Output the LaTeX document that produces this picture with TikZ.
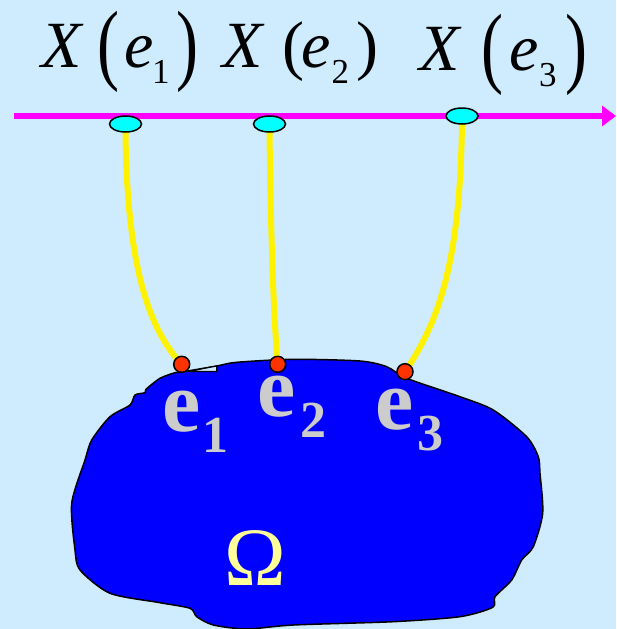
\documentclass[tikz,border=0pt]{standalone}
\usepackage{fontspec}
\setmainfont{Liberation Serif}
\usepackage{graphicx}
\usetikzlibrary{arrows.meta,shapes.geometric}
\definecolor{bgblue}{RGB}{207,236,255}
\definecolor{blobblue}{RGB}{0,0,255}
\definecolor{axmag}{RGB}{255,0,255}
\definecolor{ellcyan}{RGB}{0,255,255}
\definecolor{dotred}{RGB}{255,51,0}
\definecolor{egray}{RGB}{204,204,204}
\definecolor{omyellow}{RGB}{255,255,153}
\newcommand\BigP[1]{\raisebox{-6pt}{\scalebox{1}[1.36]{#1}}}
\newcommand\SubX[1]{\raisebox{-16pt}{\fontsize{35}{35}\selectfont #1}}
\newcommand\SubE[1]{\raisebox{-21pt}{\fontsize{52}{52}\selectfont\bfseries #1}}
\tikzset{
  formula/.style={anchor=base west, inner sep=0pt, font=\fontsize{66}{70}\selectfont},
  elabel/.style={anchor=base west, inner sep=0pt, text=egray, font=\fontsize{86}{90}\selectfont\bfseries},
  xell/.style={ellipse, draw=black, line width=1.5pt, fill=ellcyan, minimum width=32pt, minimum height=16pt, inner sep=0pt},
  edot/.style={circle, draw=black, line width=1.5pt, fill=dotred, minimum size=16pt, inner sep=0pt},
  link/.style={draw=yellow, line width=6pt},
  axis/.style={draw=axmag, line width=6pt, -{Triangle[length=14pt,width=20pt]}},
}
\begin{document}
\begin{tikzpicture}[x=1pt,y=-1pt]
\useasboundingbox (0,0) rectangle (616,629);
\fill[bgblue] (0,0) rectangle (616,629);
% region Omega
\draw[fill=blobblue, line width=1.5pt, line join=round]
  plot[smooth cycle, tension=0.45] coordinates {
  (183.3,371.7) (216.7,366) (236.7,362.3) (293.3,359.3) (360,361) (386.7,366.7)
  (406.7,378.3) (460,396.7) (493.3,410) (526.7,436.7) (538.3,456.7) (540,473.3)
  (542.7,513.3) (533.3,546.7) (521.7,560) (511.7,580) (495,596.7) (492.7,607.3)
  (460,616.7) (393.3,621.7) (293.3,625) (246.7,629) (213.3,625) (196.7,616.7)
  (190,608.3) (160,602.7) (110,593.3) (80,570) (75,550) (71.7,503.3) (85,460)
  (91.7,440) (110,416.7) (130,405) (135,395) (145,392.7) (146,389.3) (160,378.3)
  (175,372.7)};
\draw[fill=bgblue, line width=1.2pt, line join=round] (188,371.5) -- (216.7,371.5) -- (216.7,366) -- cycle;
% axis
\coordinate (axL) at (14,116);
\coordinate (axR) at (616,116);
\draw[axis] (axL) -- (axR);
% positions
\coordinate (c1) at (125.5,124);
\coordinate (c2) at (269.5,124);
\coordinate (c3) at (462,116);
\coordinate (d1) at (181.7,364.3);
\coordinate (d2) at (277.7,364.3);
\coordinate (d3) at (405,371.7);
% links
\draw[link] (c1) -- ++(0,8) .. controls (127,270) and (150,330) .. (d1);
\draw[link] (c2) -- ++(0,8) .. controls (271,250) and (274,320) .. (d2);
\draw[link] (c3) -- ++(0,8) .. controls (460,260) and (440,320) .. (d3);
% nodes
\node[xell] (x1) at (c1) {};
\node[xell] (x2) at (c2) {};
\node[xell] (x3) at (c3) {};
\node[edot] (p1) at (d1) {};
\node[edot] (p2) at (d2) {};
\node[edot] (p3) at (d3) {};
% formulas
\node[formula] (f1) at (40.8,67) {\textit{X}\kern13.9pt\BigP{(}\kern5.5pt\textit{e}\kern-2pt\SubX{1}\kern7pt\BigP{)}};
\node[formula] (f2) at (221.8,67) {\textit{X}\kern17.9pt(\kern-3pt\textit{e}\kern1pt\SubX{2}\kern7pt)};
\node[formula] (f3) at (418.8,70) {\textit{X}\kern19.9pt\BigP{(}\kern6.4pt\textit{e}\kern0pt\SubX{3}\kern8.5pt\BigP{)}};
% labels
\node[elabel] (l1) at (162,431) {e\kern2pt\SubE{1}};
\node[elabel] (l2) at (257,416) {e\kern5pt\SubE{2}};
\node[elabel] (l3) at (375,429) {e\kern4pt\SubE{3}};
\node[anchor=base, inner sep=0pt, text=omyellow, font=\fontsize{83}{86}\selectfont] (om) at (255,585) {Ω};
\end{tikzpicture}
\end{document}
